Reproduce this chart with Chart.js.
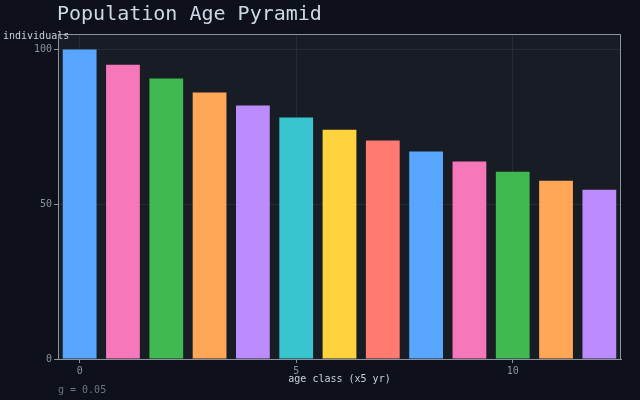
<!DOCTYPE html>
<html>
<head>
<meta charset="utf-8">
<script src="https://cdn.jsdelivr.net/npm/chart.js@4/dist/chart.umd.min.js"></script>
<style>
  html, body { margin: 0; padding: 0; background: #0e1119; }
  #wrap { width: 640px; height: 400px; }
</style>
</head>
<body>
<div id="wrap"><canvas id="pyramid" width="640" height="400"></canvas></div>
<script>
// age classes (x5 yr) and counts
let ageClasses = [0, 1, 2, 3, 4, 5, 6, 7, 8, 9, 10, 11, 12];
let individuals = [100, 95.1, 90.6, 86.1, 81.9, 78.0, 74.1, 70.6, 67.0, 63.8, 60.5, 57.6, 54.7];
let xTickEvery = 5;
let yTickStep = 50;
let yMax = 105;
let palette = ["#58a6ff", "#f778ba", "#3fb950", "#ffa657", "#bc8cff", "#39c5cf", "#ffd33d", "#ff7b72"];

let titleText = "Population Age Pyramid";
let yLabel = "individuals";
let xLabel = "age class (x5 yr)";
let footnote = "g = 0.05";

let mono = "'DejaVu Sans Mono', 'Liberation Mono', monospace";

// Background, plot frame and the free-standing texts
let decorPlugin = {
    id: "decor",
    beforeDraw: function(chart) {
        let ctx = chart.ctx;
        let a = chart.chartArea;
        ctx.save();
        ctx.fillStyle = "#0e1119";
        ctx.fillRect(0, 0, chart.width, chart.height);
        ctx.fillStyle = "#181c24";
        ctx.fillRect(a.left, a.top, a.right - a.left, a.bottom - a.top);
        ctx.restore();
    },
    afterDraw: function(chart) {
        let ctx = chart.ctx;
        let a = chart.chartArea;
        ctx.save();
        ctx.strokeStyle = "#8b949e";
        ctx.lineWidth = 1;
        ctx.strokeRect(a.left + 0.5, a.top + 0.5, a.right - a.left - 1, a.bottom - a.top);

        ctx.textBaseline = "middle";
        ctx.fillStyle = "#cdd9e5";
        ctx.font = "20px " + mono;
        ctx.textAlign = "left";
        ctx.fillText(titleText, 57, 14.5);

        ctx.font = "10px " + mono;
        ctx.fillStyle = "#c9d1d9";
        ctx.fillText(yLabel, 3, 36);
        ctx.textAlign = "center";
        ctx.fillText(xLabel, (a.left + a.right) / 2, 379);

        ctx.textAlign = "left";
        ctx.fillStyle = "#6e7681";
        ctx.fillText(footnote, 58, 390);
        ctx.restore();
    }
};

function isMajor(ctx) {
    return ctx.tick && ctx.index % xTickEvery === 0;
}

let chart = new Chart(document.getElementById("pyramid"), {
    type: "bar",
    data: {
        labels: ageClasses,
        datasets: [{
            label: "individuals",
            data: individuals,
            backgroundColor: ageClasses.map(function(x, i) { return palette[i % palette.length]; }),
            borderWidth: 0,
            barPercentage: 0.78,
            categoryPercentage: 1.0
        }]
    },
    options: {
        responsive: false,
        animation: false,
        layout: { padding: { left: 0, top: 34, right: 19, bottom: 0 } },
        plugins: {
            legend: { display: false },
            title: { display: false },
            tooltip: { enabled: false }
        },
        scales: {
            x: {
                afterFit: function(scale) { scale.height = 41; },
                grid: {
                    offset: false,
                    color: function(ctx) { return isMajor(ctx) ? "#262c36" : "rgba(0,0,0,0)"; },
                    tickColor: function(ctx) { return isMajor(ctx) ? "#8b949e" : "rgba(0,0,0,0)"; },
                    tickLength: 4
                },
                border: { color: "#8b949e" },
                ticks: {
                    autoSkip: false,
                    maxRotation: 0,
                    color: "#8b949e",
                    font: { family: mono, size: 10 },
                    padding: 2,
                    callback: function(value, index) {
                        return index % xTickEvery === 0 ? String(ageClasses[index]) : "";
                    }
                }
            },
            y: {
                min: 0,
                max: yMax,
                afterFit: function(scale) { scale.width = 58; },
                afterBuildTicks: function(scale) {
                    scale.ticks = scale.ticks.filter(function(t) { return t.value % yTickStep === 0; });
                },
                grid: { color: "#262c36", tickColor: "#8b949e", tickLength: 4 },
                border: { color: "#8b949e" },
                ticks: { stepSize: yTickStep, color: "#8b949e", font: { family: mono, size: 10 }, padding: 2 }
            }
        }
    },
    plugins: [decorPlugin]
});
</script>
</body>
</html>
